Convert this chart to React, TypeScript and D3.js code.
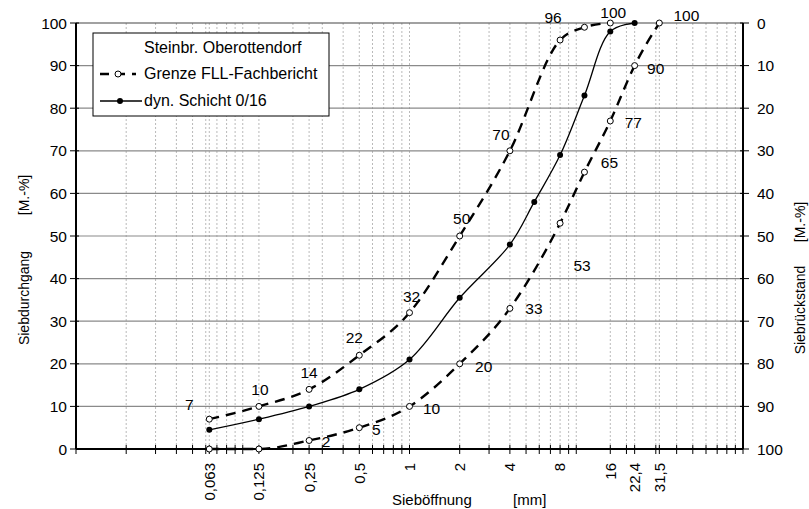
import React from 'react';
import * as d3 from 'd3';

// Siebgrößen (mm) für die Achsbeschriftung
const sieveTicks = [0.063, 0.125, 0.25, 0.5, 1, 2, 4, 8, 16, 22.4, 31.5];
const sieveTickLabels = ['0,063', '0,125', '0,25', '0,5', '1', '2', '4', '8', '16', '22,4', '31,5'];
const passTicks = [0, 10, 20, 30, 40, 50, 60, 70, 80, 90, 100];

// Grenzlinien FLL-Fachbericht
const upperSizes = [0.063, 0.125, 0.25, 0.5, 1, 2, 4, 8, 11.2, 16];
const upperPass = [7, 10, 14, 22, 32, 50, 70, 96, 99, 100];
const lowerSizes = [0.063, 0.125, 0.25, 0.5, 1, 2, 4, 8, 11.2, 16, 22.4, 31.5];
const lowerPass = [0, 0, 2, 5, 10, 20, 33, 53, 65, 77, 90, 100];

// dyn. Schicht 0/16
const sampleSizes = [0.063, 0.125, 0.25, 0.5, 1, 2, 4, 5.6, 8, 11.2, 16, 22.4];
const samplePass = [4.5, 7, 10, 14, 21, 35.5, 48, 58, 69, 83, 98, 100];

// Beschriftungsversatz (Layout, relativ zum Punkt)
const upperLabelOffsets: ([number, number] | null)[] = [
  [-20, -9], [1, -11], [0, -11], [-5, -12], [2, -11], [2, -12], [-9, -11], [-7, -17], null, [3, -5],
];
const lowerLabelOffsets: ([number, number] | null)[] = [
  null, null, [17, 7], [17, 7], [22, 8], [24, 8], [24, 6], [22, 48], [25, -4], [23, 7], [21, 8], [27, -2],
];

const W = 809;
const H = 509;
const font = '"Liberation Sans", Arial, Helvetica, sans-serif';

export default function App() {
  const x = d3.scaleLog().domain([0.01, 100]).range([76, 743]);
  const y = d3.scaleLinear().domain([0, 100]).range([449, 23]);
  const yRight = d3.scaleLinear().domain([100, 0]).range([449, 23]);

  // log-Gitter: 1..9 je Dekade + Siebgrößen
  const minor: number[] = [];
  [0.01, 0.1, 1, 10].forEach(d => {
    for (let k = 1; k < 10; k++) minor.push(d * k);
  });
  minor.push(100);
  const extra = sieveTicks.filter(s => !minor.some(m => Math.abs(m - s) < 1e-9));
  const vGrid = minor.concat(extra);

  const dashed = d3.line<[number, number]>()
    .x(d => x(d[0]))
    .y(d => y(d[1]))
    .curve(d3.curveMonotoneX);
  const smooth = d3.line<[number, number]>()
    .x(d => x(d[0]))
    .y(d => y(d[1]))
    .curve(d3.curveCatmullRom.alpha(0.5));

  const upper = upperSizes.map((s, i) => [s, upperPass[i]] as [number, number]);
  const lower = lowerSizes.map((s, i) => [s, lowerPass[i]] as [number, number]);
  const sample = sampleSizes.map((s, i) => [s, samplePass[i]] as [number, number]);

  const [x0, x1] = x.range();
  const [yb, yt] = y.range();

  return (
    <svg width={W} height={H} style={{ position: 'absolute', left: 0, top: 0, background: '#fff' }} fontFamily={font}>
      {/* vertikales Gitter */}
      {vGrid.map((v, i) => (
        <line key={'vg' + i} x1={x(v)} x2={x(v)} y1={yt} y2={yb}
          stroke="#a8a8a8" strokeWidth={0.8} strokeDasharray="2,2" />
      ))}
      {/* horizontales Gitter */}
      {passTicks.filter(t => t > 0).map(t => (
        <line key={'hg' + t} x1={x0} x2={x1} y1={y(t)} y2={y(t)}
          stroke={t === 100 ? '#444' : '#8a8a8a'} strokeWidth={1.2} />
      ))}

      {/* Achsen */}
      <line x1={x0} x2={x1} y1={yb} y2={yb} stroke="#000" strokeWidth={2} />
      <line x1={x0} x2={x0} y1={yt} y2={yb} stroke="#000" strokeWidth={2} />
      <line x1={x1} x2={x1} y1={yt} y2={yb} stroke="#000" strokeWidth={2} />
      {vGrid.map((v, i) => (
        <line key={'xt' + i} x1={x(v)} x2={x(v)} y1={yb - 4} y2={yb + 5} stroke="#000" strokeWidth={1} />
      ))}
      {passTicks.map(t => (
        <g key={'yt' + t}>
          <line x1={x0 - 6} x2={x0 + 3} y1={y(t)} y2={y(t)} stroke="#000" strokeWidth={1} />
          <text x={67} y={y(t)} dy="0.36em" textAnchor="end" fontSize={15.5}>{t}</text>
          <line x1={x1 - 3} x2={x1 + 6} y1={yRight(t)} y2={yRight(t)} stroke="#000" strokeWidth={1} />
          <text x={757} y={yRight(t)} dy="0.36em" textAnchor="start" fontSize={15.5}>{t}</text>
        </g>
      ))}
      {sieveTicks.map((s, i) => (
        <text key={'xl' + i} transform={`translate(${x(s)},${463}) rotate(-90)`} dy="0.36em"
          textAnchor="end" fontSize={15}>{sieveTickLabels[i]}</text>
      ))}

      {/* Achstitel */}
      <text x={392} y={505} fontSize={15}>Sieböffnung</text>
      <text x={513} y={505} fontSize={15}>[mm]</text>
      <text transform={`translate(24,298) rotate(-90)`} dy="0.36em" textAnchor="middle" fontSize={14}>Siebdurchgang</text>
      <text transform={`translate(24,195) rotate(-90)`} dy="0.36em" textAnchor="middle" fontSize={14}>[M.-%]</text>
      <text transform={`translate(800,310) rotate(-90)`} dy="0.36em" textAnchor="middle" fontSize={14}>Siebrückstand</text>
      <text transform={`translate(800,222) rotate(-90)`} dy="0.36em" textAnchor="middle" fontSize={14}>[M.-%]</text>

      {/* Kurven */}
      <path d={dashed(upper) || ''} fill="none" stroke="#000" strokeWidth={2.4} strokeDasharray="10,7" />
      <path d={dashed(lower) || ''} fill="none" stroke="#000" strokeWidth={2.4} strokeDasharray="10,7" />
      <path d={smooth(sample) || ''} fill="none" stroke="#000" strokeWidth={1.3} />

      {upper.map((d, i) => (
        <circle key={'uc' + i} cx={x(d[0])} cy={y(d[1])} r={3} fill="#fff" stroke="#000" strokeWidth={1} />
      ))}
      {lower.map((d, i) => (
        <circle key={'lc' + i} cx={x(d[0])} cy={y(d[1])} r={3} fill="#fff" stroke="#000" strokeWidth={1} />
      ))}
      {sample.map((d, i) => (
        <circle key={'sc' + i} cx={x(d[0])} cy={y(d[1])} r={3} fill="#000" />
      ))}

      {/* Werte */}
      {upper.map((d, i) => {
        const o = upperLabelOffsets[i];
        if (!o) return null;
        return <text key={'ul' + i} x={x(d[0]) + o[0]} y={y(d[1]) + o[1]} textAnchor="middle" fontSize={15.5}>{d[1]}</text>;
      })}
      {lower.map((d, i) => {
        const o = lowerLabelOffsets[i];
        if (!o) return null;
        return <text key={'ll' + i} x={x(d[0]) + o[0]} y={y(d[1]) + o[1]} textAnchor="middle" fontSize={15.5}>{d[1]}</text>;
      })}

      {/* Legende */}
      <rect x={93} y={33} width={236} height={83} fill="#fff" stroke="#000" strokeWidth={1} />
      <text x={144} y={53} fontSize={16}>Steinbr. Oberottendorf</text>
      <line x1={100} x2={136} y1={74} y2={74} stroke="#000" strokeWidth={2.4} strokeDasharray="9,7" />
      <circle cx={118} cy={74} r={3} fill="#fff" stroke="#000" strokeWidth={1} />
      <text x={144} y={79} fontSize={16}>Grenze FLL-Fachbericht</text>
      <line x1={100} x2={142} y1={101} y2={101} stroke="#000" strokeWidth={1.3} />
      <circle cx={120} cy={101} r={3} fill="#000" />
      <text x={144} y={106} fontSize={16}>dyn. Schicht 0/16</text>
    </svg>
  );
}
